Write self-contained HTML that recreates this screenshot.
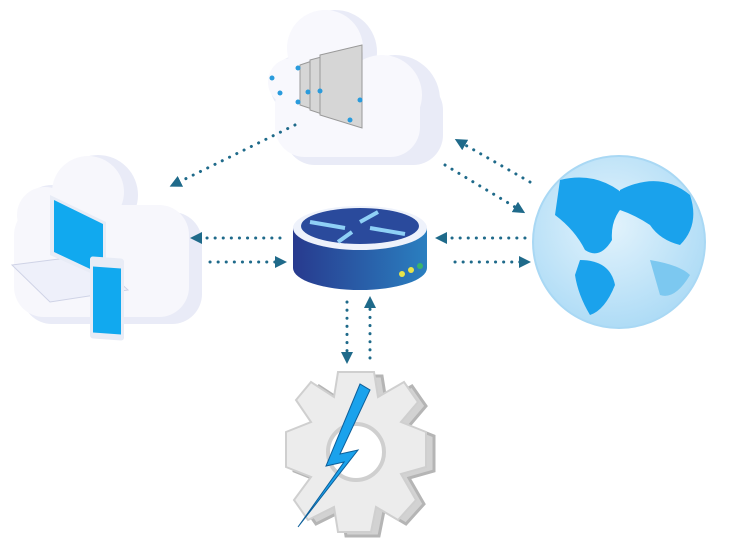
<!DOCTYPE html>
<html><head><style>html,body{margin:0;padding:0;background:#fff;width:731px;height:559px;overflow:hidden}</style></head>
<body>
<svg width="731" height="559" viewBox="0 0 731 559" xmlns="http://www.w3.org/2000/svg">
<defs>
<linearGradient id="rb" x1="0" x2="1"><stop offset="0" stop-color="#283a8e"/><stop offset="1" stop-color="#2a7fc0"/></linearGradient>
<radialGradient id="gl" cx="0.45" cy="0.4" r="0.7"><stop offset="0" stop-color="#e3f3fc"/><stop offset="1" stop-color="#a6d8f5"/></radialGradient>
<marker id="ah" viewBox="0 0 10 10" refX="5" refY="5" markerWidth="4" markerHeight="4" orient="auto"><path d="M0,0L10,5L0,10z" fill="#1f6a8a"/></marker>
</defs>
<!-- top cloud -->
<g fill="#e9ebf7">
<circle cx="335" cy="52" r="42"/><circle cx="300" cy="85" r="30"/><circle cx="395" cy="100" r="45"/><circle cx="415" cy="130" r="28"/>
<rect x="285" y="80" width="158" height="85" rx="30"/>
</g>
<g fill="#f8f8fd"><circle cx="325" cy="48" r="38"/><circle cx="292" cy="82" r="24"/><circle cx="382" cy="95" r="40"/><rect x="275" y="75" width="145" height="82" rx="30"/></g>
<g fill="#d6d6d6" stroke="#999" stroke-width="1">
<path d="M300,65 L345,50 L345,120 L300,105z"/><path d="M310,60 L355,48 L355,125 L310,110z"/><path d="M320,55 L362,45 L362,128 L320,115z"/>
</g>
<g fill="#2a9bdc"><circle cx="272" cy="78" r="2.5"/><circle cx="280" cy="93" r="2.5"/><circle cx="298" cy="102" r="2.5"/><circle cx="308" cy="92" r="2.5"/><circle cx="320" cy="91" r="2.5"/><circle cx="298" cy="68" r="2.5"/><circle cx="350" cy="120" r="2.5"/><circle cx="360" cy="100" r="2.5"/></g>
<!-- left cloud -->
<g fill="#e9ebf7"><circle cx="98" cy="195" r="40"/><circle cx="52" cy="218" r="33"/><circle cx="152" cy="252" r="45"/><circle cx="172" cy="292" r="30"/><rect x="22" y="212" width="180" height="112" rx="30"/></g>
<g fill="#f7f7fc"><circle cx="88" cy="192" r="36"/><circle cx="45" cy="215" r="28"/><circle cx="140" cy="248" r="40"/><rect x="14" y="205" width="175" height="112" rx="30"/></g>
<path d="M12,265 L90,255 L128,290 L50,302z" fill="#eef0fa" stroke="#cfd3e6"/>
<path d="M50,195 L106,222 L106,280 L50,255z" fill="#e8ecf6"/>
<path d="M54,200 L103,224 L103,275 L54,252z" fill="#11a9ef"/>
<rect x="90" y="250" width="34" height="82" rx="3" fill="#e8ecf6" transform="skewY(4)"/>
<rect x="93" y="260" width="28" height="66" fill="#11a9ef" transform="skewY(4)"/>
<!-- router -->
<path d="M293,228 L293,268 A67,22 0 0 0 427,268 L427,228z" fill="url(#rb)"/>
<ellipse cx="360" cy="228" rx="67" ry="22" fill="#eef2fb"/>
<ellipse cx="360" cy="226" rx="59" ry="18" fill="#2a4a9c"/>
<g stroke="#8fd0f6" stroke-width="4" fill="none"><path d="M310,222 L345,228"/><path d="M360,222 L378,212"/><path d="M370,228 L405,234"/><path d="M352,232 L338,242"/></g>
<circle cx="402" cy="274" r="3" fill="#e7e44a"/><circle cx="411" cy="270" r="3" fill="#e7e44a"/><circle cx="420" cy="266" r="3" fill="#3ab36b"/>
<!-- globe -->
<circle cx="619" cy="242" r="86" fill="url(#gl)" stroke="#a9d8f4" stroke-width="2"/>
<path d="M560,180 Q600,170 630,200 Q610,215 612,240 Q600,260 585,250 Q575,230 555,215z" fill="#1aa2ec"/>
<path d="M620,190 Q660,170 690,195 Q700,225 680,245 Q660,240 650,225 Q635,215 620,210z" fill="#1aa2ec"/>
<path d="M580,260 Q610,260 615,285 Q605,310 590,315 Q578,295 575,275z" fill="#1aa2ec"/>
<path d="M650,260 Q680,265 690,275 Q675,300 660,295z" fill="#7cc8f0"/>
<!-- gear -->
<g transform="translate(356,452)">
<path d="M-18,-80 L18,-80 L22,-55 L48,-70 L62,-50 L45,-30 L70,-20 L70,15 L45,22 L60,48 L42,68 L20,55 L15,80 L-18,80 L-22,55 L-48,68 L-62,48 L-45,25 L-70,15 L-70,-20 L-45,-30 L-60,-52 L-45,-70 L-22,-55z" fill="#d2d2d2" stroke="#b5b5b5" stroke-width="3" transform="translate(8,4)"/>
<path d="M-18,-80 L18,-80 L22,-55 L48,-70 L62,-50 L45,-30 L70,-20 L70,15 L45,22 L60,48 L42,68 L20,55 L15,80 L-18,80 L-22,55 L-48,68 L-62,48 L-45,25 L-70,15 L-70,-20 L-45,-30 L-60,-52 L-45,-70 L-22,-55z" fill="#ececec" stroke="#cfcfcf" stroke-width="2"/>
<circle r="28" fill="#fff" stroke="#cfcfcf" stroke-width="4"/>
<path d="M4,-68 L-30,14 L-12,10 L-58,75 L2,-2 L-16,2 L14,-62z" fill="#1aa2ec" stroke="#0d5f9a" stroke-width="1"/>
</g>
<!-- arrows -->
<g stroke="#1f6a8a" stroke-width="3" stroke-dasharray="0.1 8" stroke-linecap="round" fill="none" marker-end="url(#ah)">
<path d="M295,125 L175,184"/>
<path d="M530,182 L460,142"/>
<path d="M445,165 L520,210"/>
<path d="M280,238 L196,238"/>
<path d="M210,262 L281,262"/>
<path d="M525,238 L441,238"/>
<path d="M455,262 L525,262"/>
<path d="M347,302 L347,358"/>
<path d="M370,358 L370,302"/>
</g>
</svg>
</body></html>
